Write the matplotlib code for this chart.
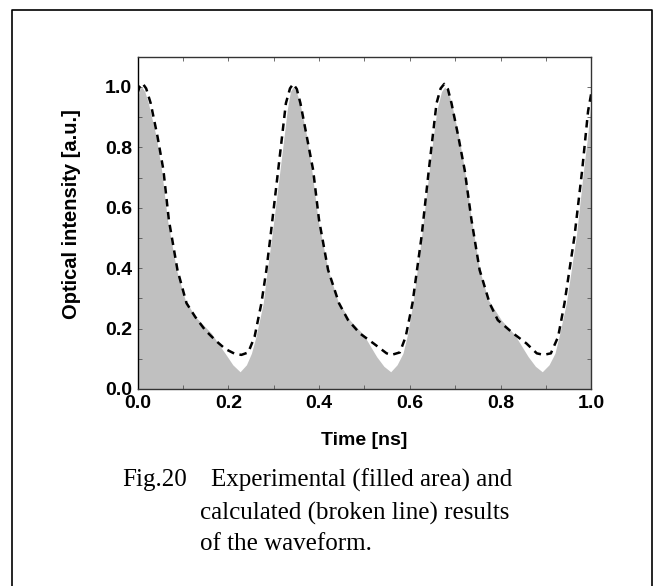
import numpy as np
import matplotlib.pyplot as plt
from matplotlib.lines import Line2D

# experimental waveform (filled area)
t_exp = [0.000, 0.004, 0.009, 0.016, 0.024, 0.041, 0.053, 0.066, 0.086, 0.105,
         0.127, 0.145, 0.163, 0.178, 0.193, 0.210, 0.226, 0.240, 0.251, 0.261,
         0.277, 0.286, 0.296, 0.305, 0.314, 0.323, 0.330, 0.337, 0.343, 0.350,
         0.358, 0.373, 0.384, 0.398, 0.420, 0.442, 0.468, 0.498, 0.527, 0.543,
         0.558, 0.572, 0.585, 0.595, 0.607, 0.626, 0.643, 0.652, 0.660, 0.670,
         0.677, 0.684, 0.692, 0.708, 0.721, 0.736, 0.754, 0.773, 0.802, 0.831,
         0.861, 0.877, 0.892, 0.907, 0.920, 0.930, 0.945, 0.967, 0.983, 0.992,
         1.000]
i_exp = [0.960, 0.990, 1.000, 0.985, 0.946, 0.836, 0.725, 0.560, 0.394, 0.295,
         0.240, 0.212, 0.184, 0.150, 0.118, 0.080, 0.057, 0.080, 0.118, 0.173,
         0.284, 0.394, 0.505, 0.615, 0.725, 0.836, 0.925, 0.985, 1.000, 0.985,
         0.946, 0.836, 0.725, 0.560, 0.394, 0.290, 0.228, 0.180, 0.107, 0.075,
         0.057, 0.080, 0.118, 0.180, 0.284, 0.505, 0.725, 0.836, 0.925, 0.985,
         1.000, 0.985, 0.946, 0.836, 0.725, 0.560, 0.394, 0.295, 0.228, 0.180,
         0.107, 0.075, 0.057, 0.080, 0.118, 0.180, 0.284, 0.505, 0.725, 0.836,
         0.960]

# calculated waveform (broken line)
t_calc = [0.000, 0.005, 0.011, 0.019, 0.029, 0.044, 0.057, 0.069, 0.088, 0.108,
          0.127, 0.149, 0.171, 0.193, 0.215, 0.229, 0.244, 0.258, 0.273, 0.284,
          0.293, 0.310, 0.327, 0.336, 0.343, 0.351,
          0.359, 0.373, 0.387, 0.400, 0.420, 0.444, 0.464, 0.490, 0.520, 0.549,
          0.560, 0.578, 0.591, 0.606, 0.626, 0.642, 0.659, 0.668, 0.676, 0.684,
          0.692, 0.707, 0.721, 0.736, 0.754, 0.776, 0.794, 0.828, 0.857, 0.880,
          0.895, 0.911, 0.927, 0.941, 0.963, 0.980, 0.993, 1.000]
i_calc = [0.980, 1.002, 1.012, 0.995, 0.946, 0.836, 0.725, 0.560, 0.394, 0.284,
          0.239, 0.195, 0.162, 0.133, 0.116, 0.113, 0.121, 0.173, 0.284, 0.394,
          0.505, 0.725, 0.946, 0.995, 1.010, 0.993,
          0.946, 0.836, 0.725, 0.560, 0.394, 0.284, 0.228, 0.184, 0.151, 0.118,
          0.113, 0.121, 0.173, 0.284, 0.505, 0.725, 0.946, 0.995, 1.010, 0.993,
          0.946, 0.836, 0.725, 0.560, 0.394, 0.284, 0.228, 0.184, 0.151, 0.118,
          0.113, 0.118, 0.173, 0.284, 0.505, 0.725, 0.920, 0.979]

fig = plt.figure(figsize=(6.59, 5.86), dpi=100)
ax = fig.add_axes([0.2087, 0.3362, 0.6885, 0.567])

ax.fill_between(t_exp, i_exp, 0, color='#c0c0c0', linewidth=0)
ax.plot(t_calc, i_calc, color='black', lw=1.8, linestyle=(0, (3.0, 2.2)))

ax.set_xlim(0, 1.0)
ax.set_ylim(0, 1.1)
ax.set_xticks(np.arange(0, 1.01, 0.2))
ax.set_yticks(np.arange(0, 1.01, 0.2))
ax.set_xticks(np.arange(0, 1.01, 0.1), minor=True)
ax.set_yticks(np.arange(0, 1.11, 0.1), minor=True)
ax.tick_params(which='both', direction='in', top=True, right=True, length=3,
               width=0.6, color='#555555')
ax.tick_params(which='major', labelsize=14, pad=4)
ticklabels = ['0.0', '0.2', '0.4', '0.6', '0.8', '1.0']
ax.set_xticklabels(ticklabels, fontfamily='Liberation Sans', fontweight='bold')
ax.set_yticklabels(ticklabels, fontfamily='Liberation Sans', fontweight='bold')
for s in ax.spines.values():
    s.set_linewidth(1.0)
    s.set_color('#333333')
ax.spines['left'].set_color('black')

ax.set_xlabel('Time [ns]', fontsize=14, fontweight='bold',
              fontfamily='Liberation Sans')
ax.set_ylabel('Optical intensity [a.u.]', fontsize=14.5, fontweight='bold',
              fontfamily='Liberation Sans')
ax.xaxis.set_label_coords(0.5, -0.13)
ax.yaxis.set_label_coords(-0.125, 0.525)

# caption
cap = dict(fontsize=18, fontfamily='Liberation Serif', va='center', ha='left')
fig.text(122 / 659, 1 - 480 / 586, 'Fig.20', **cap)
fig.text(211 / 659, 1 - 480 / 586, 'Experimental (filled area) and', **cap)
fig.text(200 / 659, 1 - 513 / 586, 'calculated (broken line) results', **cap)
fig.text(200 / 659, 1 - 544 / 586, 'of the waveform.', **cap)

# outer frame (open at the bottom)
fx0, fx1, fy = 12 / 659, 652 / 659, 1 - 10 / 586
fig.add_artist(Line2D([fx0, fx0, fx1, fx1], [-0.01, fy, fy, -0.01],
                      transform=fig.transFigure, color='black', lw=1.2))

fig.savefig('out.png', dpi=100)
